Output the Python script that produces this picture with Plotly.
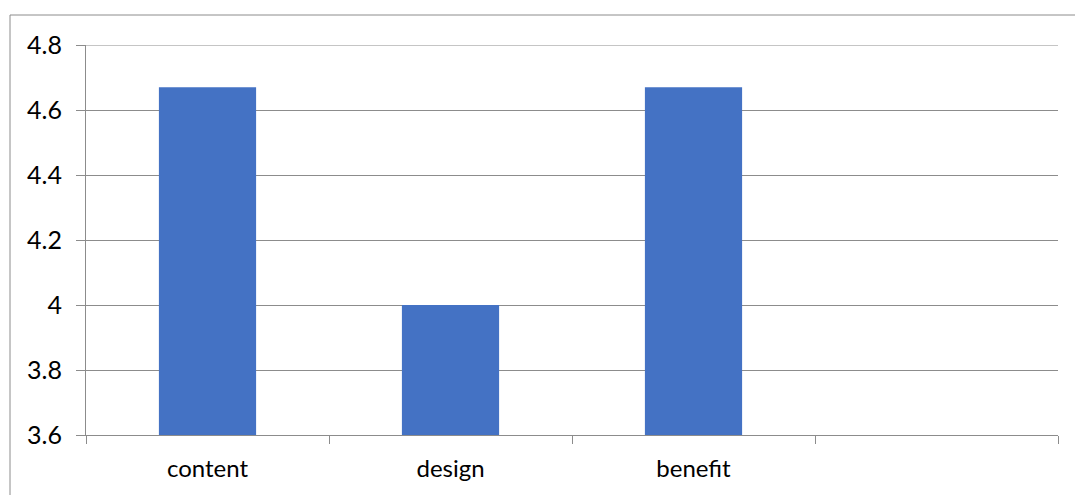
import plotly.graph_objects as go

# Average rating per aspect
categories = ["content", "design", "benefit"]
scores = [4.67, 4.0, 4.67]
y_floor, y_top = 3.6, 4.8
y_ticks = [3.6, 3.8, 4.0, 4.2, 4.4, 4.6, 4.8]
y_tick_labels = ["3.6", "3.8", "4", "4.2", "4.4", "4.6", "4.8"]

positions = list(range(len(categories)))
grid = "#8c8c8c"
font_family = "Lato, 'Open Sans', sans-serif"

# bars rise from the axis floor, so heights are value minus floor
fig = go.Figure(
    go.Bar(
        x=positions,
        y=[s - y_floor for s in scores],
        base=y_floor,
        width=0.4,
        marker=dict(color="#4472c4", line=dict(width=0)),
    )
)

fig.update_layout(
    width=1075,
    height=495,
    margin=dict(l=86, r=17, t=45, b=60),
    plot_bgcolor="white",
    paper_bgcolor="white",
    showlegend=False,
    font=dict(family=font_family, color="#000000"),
)

fig.update_xaxes(
    range=[-0.5, 3.5],
    tickvals=positions,
    ticktext=categories,
    ticks="",
    ticklabelstandoff=12,
    tickfont=dict(size=24),
    showgrid=False,
    showline=True,
    linecolor=grid,
    linewidth=1,
    zeroline=False,
    minor=dict(tick0=-0.5, dtick=1, ticks="outside", ticklen=8, tickcolor=grid, tickwidth=1, showgrid=False),
)

fig.update_yaxes(
    range=[y_floor, y_top],
    tickvals=y_ticks,
    ticktext=y_tick_labels,
    ticks="outside",
    ticklen=9,
    tickcolor=grid,
    ticklabelstandoff=9,
    tickfont=dict(size=25),
    showgrid=True,
    gridcolor=grid,
    gridwidth=1,
    showline=True,
    linecolor=grid,
    linewidth=1,
    zeroline=False,
)

# top gridline sits on the range edge
fig.add_shape(
    type="line",
    xref="paper",
    yref="y",
    x0=0,
    x1=1,
    y0=y_top,
    y1=y_top,
    line=dict(color=grid, width=1),
)

# chart frame
pw, ph = 1075 - 86 - 17, 495 - 45 - 60
fig.add_shape(
    type="rect",
    xref="paper",
    yref="paper",
    x0=(10 - 86) / pw,
    x1=(1085 - 86) / pw,
    y0=(435 - 510) / ph,
    y1=(435 - 15) / ph,
    line=dict(color=grid, width=1),
    fillcolor="rgba(0,0,0,0)",
    layer="below",
)

fig.write_html("out.html")
